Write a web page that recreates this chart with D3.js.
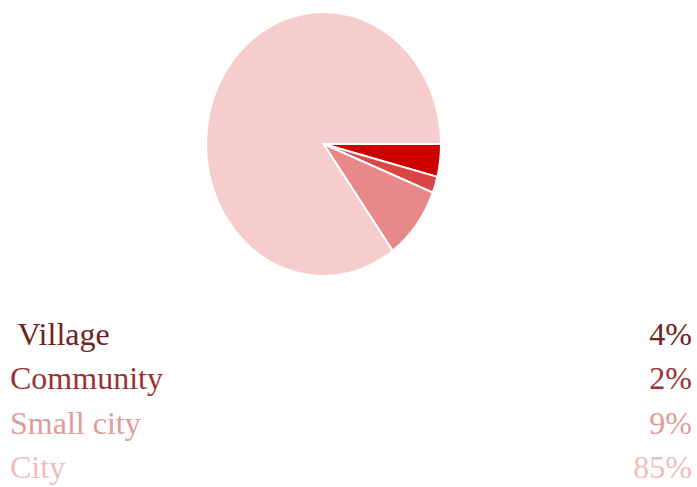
<!DOCTYPE html>
<html lang="en">
<head>
<meta charset="UTF-8">
<title>Pie</title>
<style>
  body { margin: 0; background: #fff; }
  text { font-family: "Liberation Serif", "Times New Roman", serif; white-space: pre; }
</style>
<script src="https://d3js.org/d3.v7.min.js"></script>
</head>
<body>
<script>
var categories = [" Village", "Community", "Small city", "City"];
var shares = [4, 2, 9, 85];
var sliceColors = ["#cc0000", "#dd4444", "#e88888", "#f6cccc"];
var textColors = ["#6e2222", "#9b3232", "#e09c9c", "#efbdbd"];

var width = 697, height = 487;
var cx = 323.5, cy = 144, rx = 117.5, ry = 132;

var svg = d3.select("body").append("svg")
    .attr("width", width)
    .attr("height", height);

var pie = d3.pie().sort(null).value(d => d)
    .startAngle(Math.PI / 2).endAngle(Math.PI / 2 + 2 * Math.PI);
var arc = d3.arc().innerRadius(0).outerRadius(1);

var g = svg.append("g")
    .attr("transform", "translate(" + cx + "," + cy + ") scale(" + rx + "," + ry + ")");

g.selectAll("path")
    .data(pie(shares))
    .enter()
    .append("path")
    .attr("d", arc)
    .attr("fill", (d, i) => sliceColors[i])
    .attr("stroke", "white")
    .attr("stroke-width", 2)
    .attr("vector-effect", "non-scaling-stroke");

var y = d3.scaleBand().domain(categories).range([322, 499]);

var rows = svg.selectAll("g.row")
    .data(categories)
    .enter()
    .append("g")
    .attr("class", "row");

rows.append("text")
    .attr("x", 10)
    .attr("y", d => y(d) + 23)
    .attr("font-size", 32)
    .attr("fill", (d, i) => textColors[i])
    .text(d => d);

rows.append("text")
    .attr("x", 692)
    .attr("y", d => y(d) + 23)
    .attr("font-size", 32)
    .attr("text-anchor", "end")
    .attr("fill", (d, i) => textColors[i])
    .text((d, i) => shares[i] + "%");
</script>
</body>
</html>
